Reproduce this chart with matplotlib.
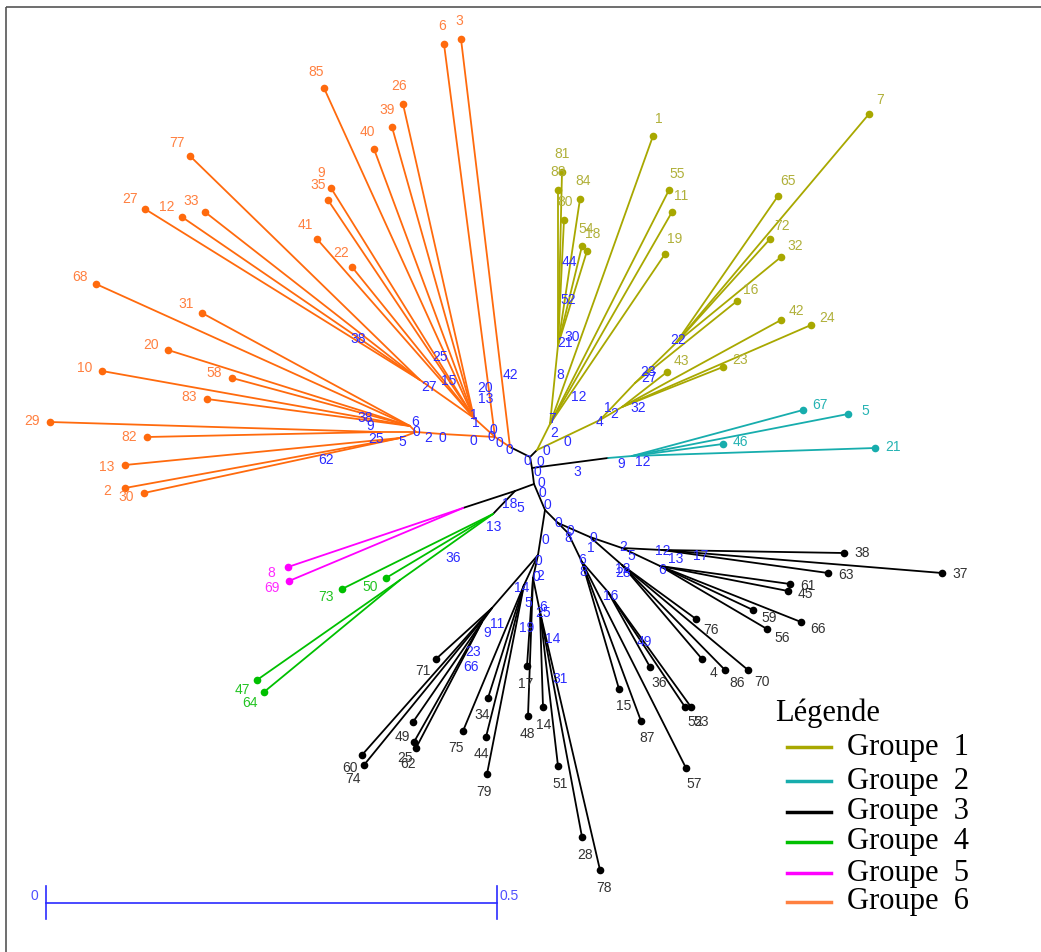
import matplotlib
matplotlib.use("Agg")
import matplotlib.pyplot as plt
from matplotlib.patches import Rectangle

# group colours: 1 olive, 2 cyan, 3 black, 4 green, 5 magenta, 6 orange
line_col = {1: "#a8a800", 2: "#17adad", 3: "black", 4: "#00c000", 5: "#ff00ff", 6: "#ff6a0d"}
text_col = {1: "#b0b03a", 2: "#25b3b3", 3: "#333333", 4: "#22c422", 5: "#ff2bff", 6: "#ff8040"}
legend_col = ["#a8a800", "#17adad", "black", "#00c000", "#ff00ff", "#ff8040"]
legend_names = ["Groupe  1", "Groupe  2", "Groupe  3", "Groupe  4", "Groupe  5", "Groupe  6"]

# internal nodes of the unrooted tree (layout units = pixels, y downward)
node_id = ["c0", "o", "o1", "na", "na1", "l1", "l2", "l3", "l4", "l5",
           "y", "y1", "y1a", "y2", "y3", "y3a", "y4",
           "c1", "cy", "cy1", "c2", "pg", "pk", "gr", "gr2",
           "c3", "bl", "bl1", "bl1b", "bl2", "bl3", "bl4",
           "br", "bra", "bra1", "bra2", "brc", "brd", "bre", "brf", "brg"]
node_x = [530, 510, 495, 474, 420, 442, 416, 410, 380, 400,
          537, 550, 558, 600, 635, 676, 622,
          532, 608, 632, 534, 515, 463, 493, 400,
          545, 538, 492, 482, 524, 533, 540,
          558, 568, 582, 608, 590, 622, 622, 662, 660]
node_y = [457, 447, 437, 418, 380, 434, 432, 426, 432, 438,
          450, 424, 345, 420, 383, 343, 407,
          468, 458, 456, 484, 491, 508, 514, 580,
          510, 555, 608, 622, 585, 578, 612,
          523, 533, 562, 592, 537, 565, 548, 550, 566]
node_parent = [None, "c0", "o", "o1", "na", "o1", "l1", "l2", "l2", "l2",
               "c0", "y", "y1", "y", "y2", "y3", "y2",
               "c0", "c1", "cy", "c1", "c2", "pg", "pg", "gr",
               "c2", "c3", "bl", "bl1", "bl", "bl", "bl3",
               "c3", "br", "bra", "bra1", "br", "brc", "brc", "bre", "bre"]
node_group = [3, 3, 6, 6, 6, 6, 6, 6, 6, 6,
              3, 1, 1, 1, 1, 1, 1,
              3, 3, 2, 3, 3, 3, 3, 4,
              3, 3, 3, 3, 3, 3, 3,
              3, 3, 3, 3, 3, 3, 3, 3, 3]

# tips
tip_label = ["6", "3", "85", "26", "39", "40", "77", "9", "35", "27", "12", "33", "41", "22",
             "68", "31", "20", "10", "58", "83", "29", "82", "13", "2", "30",
             "1", "7", "81", "88", "84", "80", "54", "18", "55", "11", "19",
             "65", "72", "32", "16", "42", "24", "43", "23",
             "67", "5", "46", "21",
             "8", "69", "73", "50", "47", "64",
             "38", "37", "63", "61", "45", "59", "66", "56", "76", "4", "86", "70",
             "36", "52", "53", "15", "87", "57",
             "17", "48", "14", "51", "28", "78", "34", "44", "79", "75",
             "71", "49", "25", "62", "60", "74"]
tip_x = [444, 461, 324, 403, 392, 374, 190, 331, 328, 145, 182, 205, 317, 352,
         96, 202, 168, 102, 232, 207, 50, 147, 125, 125, 144,
         653, 869, 562, 558, 580, 564, 582, 587, 669, 672, 665,
         778, 770, 781, 737, 781, 811, 667, 723,
         803, 848, 723, 875,
         288, 289, 342, 386, 257, 264,
         844, 942, 828, 790, 788, 753, 801, 767, 696, 702, 725, 748,
         650, 685, 691, 619, 641, 686,
         527, 528, 543, 558, 582, 600, 488, 486, 487, 463,
         436, 413, 414, 416, 362, 364]
tip_y = [44, 39, 88, 104, 127, 149, 156, 188, 200, 209, 217, 212, 239, 267,
         284, 313, 350, 371, 378, 399, 422, 437, 465, 488, 493,
         136, 114, 172, 190, 199, 220, 246, 251, 190, 212, 254,
         196, 239, 257, 301, 320, 325, 372, 367,
         410, 414, 444, 448,
         567, 581, 589, 578, 680, 692,
         553, 573, 573, 584, 591, 610, 622, 629, 619, 659, 670, 670,
         667, 707, 707, 689, 721, 768,
         666, 716, 707, 766, 837, 870, 698, 737, 774, 731,
         659, 722, 742, 748, 755, 765]
tip_parent = ["o1", "o", "na", "na", "na", "na", "na1", "na", "na", "na1", "na1", "na1", "na", "na",
              "l3", "l3", "l3", "l3", "l3", "l3", "l4", "l4", "l5", "l5", "l5",
              "y1", "y3a", "y1a", "y1a", "y1a", "y1a", "y1a", "y1a", "y1", "y1", "y1",
              "y3a", "y3a", "y3a", "y3", "y4", "y4", "y4", "y4",
              "cy1", "cy1", "cy1", "cy1",
              "pk", "pk", "gr", "gr", "gr2", "gr2",
              "brf", "brf", "brf", "brg", "brg", "brg", "brg", "brg", "brd", "brd", "brd", "brd",
              "bra2", "bra2", "bra2", "bra1", "bra1", "bra1",
              "bl3", "bl3", "bl4", "bl4", "bl4", "bl4", "bl2", "bl2", "bl2", "bl2",
              "bl1", "bl1b", "bl1b", "bl1b", "bl1", "bl1"]
tip_group = [6] * 25 + [1] * 19 + [2] * 4 + [5, 5, 4, 4, 4, 4] + [3] * 36

# node support values written on the tree
boot_text = ["42", "25", "15", "27", "20", "13", "1", "1", "0", "0", "0", "0", "0", "0", "2", "0",
             "6", "38", "38", "9", "25", "5", "62",
             "44", "52", "30", "21", "8", "12", "7", "2", "0", "0", "1", "2", "4", "32", "23", "27", "22",
             "0", "0", "0", "3", "9", "12", "0", "0", "0", "18", "5", "13", "36",
             "0", "0", "0", "2", "14", "5", "19", "11", "9", "23", "66", "6", "25", "14", "31",
             "0", "0", "8", "0", "1", "2", "5", "12", "13", "17", "6", "12", "28", "6", "8", "16", "49"]
boot_x = [510, 440, 449, 429, 485, 486, 474, 476, 493, 491, 499, 509, 473, 442, 428, 416,
          415, 358, 365, 370, 376, 402, 326,
          569, 568, 572, 565, 560, 579, 552, 554, 567, 546, 608, 614, 600, 638, 648, 649, 678,
          527, 540, 537, 577, 621, 643, 541, 542, 547, 510, 520, 494, 453,
          545, 538, 536, 540, 522, 528, 527, 497, 487, 473, 471, 543, 543, 553, 560,
          558, 570, 568, 593, 591, 623, 631, 663, 676, 701, 662, 623, 623, 582, 583, 611, 644]
boot_y = [375, 357, 381, 387, 388, 399, 415, 423, 430, 437, 443, 450, 441, 438, 438, 432,
          422, 339, 418, 426, 439, 442, 460,
          262, 300, 337, 343, 375, 397, 419, 433, 442, 451, 408, 414, 422, 408, 372, 378, 340,
          461, 462, 472, 472, 464, 462, 483, 493, 505, 504, 508, 527, 558,
          540, 561, 577, 576, 588, 603, 628, 624, 633, 652, 667, 607, 613, 639, 679,
          523, 531, 538, 538, 548, 547, 556, 551, 559, 556, 570, 569, 573, 560, 572, 596, 642]

pos = {n: (x, y) for n, x, y in zip(node_id, node_x, node_y)}

fig = plt.figure(figsize=(10.41, 9.52), dpi=100)
ax = fig.add_axes([0, 0, 1, 1])
ax.set_xlim(0, 1041)
ax.set_ylim(952, 0)
ax.axis("off")

ax.add_patch(Rectangle((6, 7), 1045, 955, fill=False, edgecolor="#555555", lw=1.2))

# internal edges
for n, par, g in zip(node_id, node_parent, node_group):
    if par is None:
        continue
    x0, y0 = pos[par]
    x1, y1 = pos[n]
    ax.plot([x0, x1], [y0, y1], color=line_col[g], lw=1.3, solid_capstyle="round")

# tip edges, dots and labels
for lab, x, y, par, g in zip(tip_label, tip_x, tip_y, tip_parent, tip_group):
    x0, y0 = pos[par]
    ax.plot([x0, x], [y0, y], color=line_col[g], lw=1.3, solid_capstyle="round")
    ax.plot(x, y, "o", color=line_col[g], ms=5.5, mec="none")
    dx, dy = x - x0, y - y0
    d = (dx ** 2 + dy ** 2) ** 0.5
    ax.text(x + 18 * dx / d, y + 18 * dy / d, lab, color=text_col[g], fontsize=10,
            family="Liberation Sans", ha="center", va="center")

for t, x, y in zip(boot_text, boot_x, boot_y):
    ax.text(x, y, t, color="#2b2bff", fontsize=10, family="Liberation Sans",
            ha="center", va="center")

# scale bar
ax.plot([46, 497], [903, 903], color="#2b2bff", lw=1.2)
ax.plot([46, 46], [886, 919], color="#2b2bff", lw=1.2)
ax.plot([497, 497], [886, 919], color="#2b2bff", lw=1.2)
ax.text(34, 896, "0", color="#5050ff", fontsize=10, family="Liberation Sans", ha="center", va="center")
ax.text(509, 896, "0.5", color="#5050ff", fontsize=10, family="Liberation Sans", ha="center", va="center")

# legend
ax.text(775, 713, "Légende", fontsize=22, family="Liberation Serif", ha="left", va="center")
leg_y = [747, 781, 812, 842, 873, 902]
for c, name, yy in zip(legend_col, legend_names, leg_y):
    ax.plot([787, 831], [yy, yy], color=c, lw=2.5)
    ax.text(847, yy, name, fontsize=22, family="Liberation Serif", ha="left", va="center")

fig.savefig("out.png", dpi=100)
